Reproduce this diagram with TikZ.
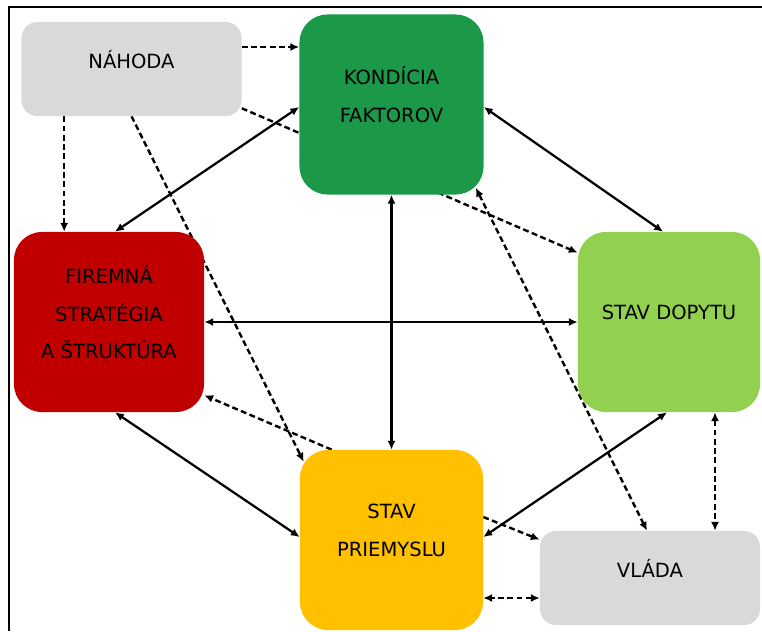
\documentclass[tikz,border=0pt]{standalone}
\usepackage{fontspec}
\setmainfont{DejaVu Sans}
\usetikzlibrary{arrows.meta, calc, backgrounds}
\definecolor{chancegray}{HTML}{D9D9D9}
\definecolor{kondgreen}{HTML}{1B9848}
\definecolor{firmred}{HTML}{C00000}
\definecolor{dopytgreen}{HTML}{92D050}
\definecolor{priemorange}{HTML}{FFC000}
\tikzset{
  align=center,
  factor/.style={rounded corners=0.7cm, inner sep=0pt, minimum width=4.6cm, minimum height=4.5cm, text depth=0.5cm, font=\fontsize{13.9}{26.7}\selectfont},
  chance/.style={factor, rounded corners=0.4cm, fill=chancegray, minimum width=5.5cm, minimum height=2.35cm},
  bipto/.style={{Latex[length=2.2mm,width=2mm]}-{Latex[length=2.2mm,width=2mm]}, line width=1.6pt},
  dpto/.style={-{Latex[length=2.2mm,width=2mm]}, line width=1.7pt, dash pattern=on 4.2pt off 2.4pt},
  bidpto/.style={dpto, {Latex[length=2.2mm,width=2mm]}-{Latex[length=2.2mm,width=2mm]}}
}

\begin{document}
\begin{tikzpicture}[x=0.025cm, y=-0.025cm]
  \useasboundingbox (0,0) rectangle (762,631);
  \draw[line width=1.8pt] (762,7) -- (9,7) -- (9,631);

  \node[chance] (nahoda) at (131.5,69) {NÁHODA};
  \node[factor, fill=kondgreen] (kond) at (391.5,104.5) {KONDÍCIA\\FAKTOROV};
  \node[factor, fill=firmred, minimum width=4.75cm] (firm) at (109,322) {FIREMNÁ\\STRATÉGIA\\A ŠTRUKTÚRA};
  \node[factor, fill=dopytgreen, minimum width=4.55cm] (dopyt) at (669,322) {STAV DOPYTU};
  \node[factor, fill=priemorange, minimum width=4.575cm] (priem) at (391.5,540) {STAV\\PRIEMYSLU};
  \node[chance] (vlada) at (650,578) {VLÁDA};

  \begin{scope}[on background layer]
    % solid links
    \draw[bipto] ($(kond.west)+(0,2.5)$) -- ($(firm.north)+(6,0)$);
    \draw[bipto] ($(kond.east)+(0,2.5)$) -- ($(dopyt.north)+(-6,0)$);
    \draw[bipto] (kond.south) -- (priem.north);
    \draw[bipto] (firm.east) -- (dopyt.west);
    \draw[bipto] ($(firm.south)+(6,0)$) -- ($(priem.west)+(0,-3)$);
    \draw[bipto] ($(priem.east)+(0,-3)$) -- ($(dopyt.south)+(-2,0)$);

    % dashed links
    \draw[dpto] ($(nahoda.east)+(0,-22)$) -- ($(kond.west)+(0,-57.5)$);
    \draw[dpto] ($(nahoda.south west)+(43,0)$) coordinate (n1) -- (n1 |- firm.north);
    \draw[dpto] (nahoda.south) -- ($(priem.north west)+(4,12)$);
    \draw[dpto] ($(nahoda.south east)+(0,-8)$) -- ($(dopyt.north west)+(0,21)$);
    \draw[dpto] ($(priem.north west)+(32,0)$) -- ($(firm.south east)+(0,-17)$);
    \draw[bidpto] ($(kond.south east)+(-8,-7)$) -- ($(vlada.north)+(-3,0)$);
    \draw[dpto] ($(priem.east)+(0,-23)$) -- ($(vlada.north west)+(0,9)$);
    \draw[bidpto] ($(vlada.west)+(0,20)$) coordinate (v1) -- (v1 -| priem.east);
    \draw[bidpto] ($(dopyt.south)+(46,0)$) coordinate (d1) -- (d1 |- vlada.north);
  \end{scope}
\end{tikzpicture}
\end{document}
